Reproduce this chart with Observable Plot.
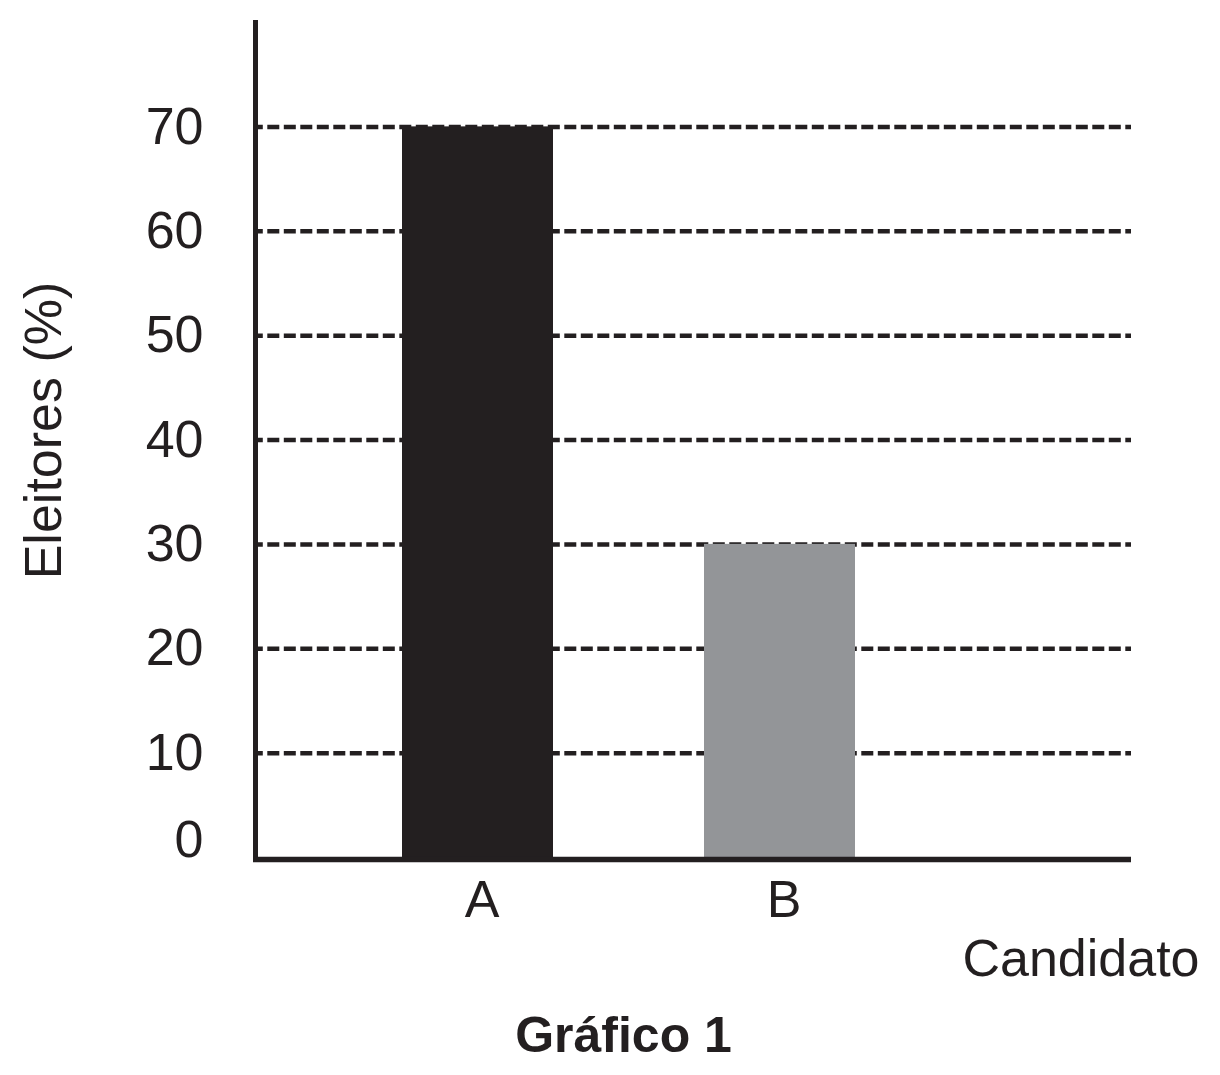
<!DOCTYPE html>
<html>
<head>
<meta charset="utf-8">
<script src="https://cdn.jsdelivr.net/npm/d3@7"></script>
<script src="https://cdn.jsdelivr.net/npm/@observablehq/plot@0.6"></script>
<style>
  body { margin: 0; background: #ffffff; }
  #chart svg { display: block; }
  #caption {
    font: bold 50px "Liberation Sans", Arial, Helvetica, sans-serif;
    color: #231f20;
    line-height: 60px;
    text-align: center;
    padding-left: 27px;
    margin-top: 5px;
    width: 1193px;
  }
</style>
</head>
<body>
<div id="chart"></div>
<div id="caption"></div>
<script>
// ---- data ----
const categories = ["A", "B"];
const eleitores = [70, 30];
const yTicks = [0, 10, 20, 30, 40, 50, 60, 70];
const yMax = 80;
const yLabel = "Eleitores (%)";
const xLabel = "Candidato";
const title = "Gráfico 1";

// ---- styles ----
const ink = "#231f20";
const barColors = ["#231f20", "#939598"];

const rows = categories.map((c, i) => ({candidato: c, eleitores: eleitores[i]}));
const font = "'Liberation Sans', Arial, Helvetica, sans-serif";

const chart = Plot.plot({
  width: 1220,
  height: 1000,
  marginLeft: 256,
  marginRight: 89,
  marginTop: 22,
  marginBottom: 143,
  style: {fontFamily: font, color: ink, background: "white"},
  x: {type: "band", domain: categories, range: [402, 855], paddingInner: 0.5, paddingOuter: 0},
  y: {domain: [0, yMax]},
  color: {domain: categories, range: barColors},
  marks: [
    Plot.ruleY(yTicks.filter(t => t > 0), {
      stroke: ink, strokeWidth: 4.5, strokeDasharray: "12,4.5", strokeDashoffset: 5.2
    }),
    Plot.barY(rows, {x: "candidato", y: "eleitores", fill: "candidato"}),
    Plot.frame({anchor: "left", stroke: ink, strokeWidth: 5, dx: -1, insetBottom: -2}),
    Plot.ruleY([0], {stroke: ink, strokeWidth: 5.5, dy: 2, insetLeft: -3}),
    Plot.axisY(yTicks.filter(t => t > 0), {
      tickSize: 0, tickPadding: 53, fontSize: 52, color: ink, label: null
    }),
    Plot.axisY([0], {
      tickSize: 0, tickPadding: 53, fontSize: 52, color: ink, label: null, dy: -17
    }),
    Plot.axisX(categories, {
      tickSize: 0, tickPadding: 23, fontSize: 52, color: ink, label: null, dx: 4
    }),
    Plot.text([yLabel], {
      text: d => d, frameAnchor: "left", textAnchor: "middle", rotate: -90, lineAnchor: "bottom",
      dx: -196, dy: -9.5, fontSize: 52, fill: ink
    }),
    Plot.text([xLabel], {
      text: d => d, frameAnchor: "bottom-right", textAnchor: "end", lineAnchor: "bottom",
      dx: 68, dy: 118, fontSize: 52, fill: ink
    })
  ]
});

document.getElementById("chart").appendChild(chart);
document.getElementById("caption").textContent = title;
</script>
</body>
</html>
